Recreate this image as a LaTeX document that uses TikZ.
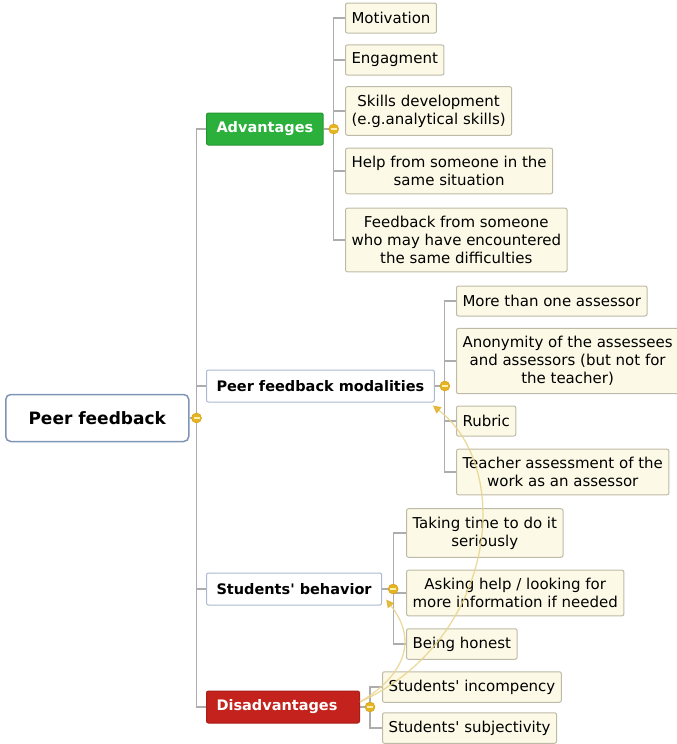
\documentclass[tikz,border=0pt]{standalone}
\usepackage{fontspec}
\setmainfont{DejaVu Sans}
\usepackage{xcolor}
\usetikzlibrary{arrows.meta,backgrounds}

\definecolor{advgreen}{HTML}{2BB03B}
\definecolor{disred}{HTML}{C4221C}
\definecolor{leaffill}{HTML}{FCFAE6}
\definecolor{leafline}{HTML}{BDBBA8}
\definecolor{topicline}{HTML}{AAB9D0}
\definecolor{rootline}{HTML}{7F95B5}
\definecolor{branchgray}{HTML}{ADADAD}
\definecolor{knobgold}{HTML}{E6B422}
\definecolor{knobdark}{HTML}{D09A10}
\definecolor{knoblight}{HTML}{FFF0B0}
\definecolor{relline}{HTML}{E9D38C}
\definecolor{relgold}{HTML}{E0B22A}

\begin{document}
\begin{tikzpicture}[
    x=1pt, y=-1pt,
    every node/.style={font=\fontsize{15}{18}\selectfont},
    leaf/.style={draw=leafline, fill=leaffill, rounded corners=2pt, line width=1pt, anchor=west,
        align=center, inner xsep=6pt, inner ysep=8pt, minimum height=30pt},
    topic/.style={draw=topicline, fill=white, rounded corners=2pt, line width=1pt, anchor=west,
        inner xsep=10pt, minimum height=32pt, font=\fontsize{14.5}{18}\selectfont\bfseries},
    good/.style={topic, draw=advgreen!85!black, fill=advgreen, text=white},
    bad/.style={topic, draw=disred!85!black, fill=disred, text=white},
    root/.style={draw=rootline, fill=white, rounded corners=5pt, line width=1.5pt, anchor=west,
        minimum width=183pt, minimum height=47pt, font=\fontsize{17}{20}\selectfont\bfseries},
    knob/.style={circle, draw=knobdark, fill=knobgold, inner sep=0pt, minimum size=10pt,
        path picture={\draw[knoblight, line width=1.6pt]
            ([xshift=-3pt]path picture bounding box.center) -- ([xshift=3pt]path picture bounding box.center);}},
    branch/.style={draw=branchgray, line width=1.2pt},
    relation/.style={draw=relline, line width=1.3pt, opacity=0.85,
        -{Triangle[length=8pt, width=8pt, color=relgold]}}
]
\useasboundingbox (0,0) rectangle (677,744);

% central topic and main branches
\node[root] (root) at (5,418) {Peer feedback};
\node[good] (adv) at (206,129) {Advantages};
\node[topic] (pfm) at (206,386) {Peer feedback modalities};
\node[topic] (sb) at (206,589) {Students\textquotesingle{} behavior};
\node[bad, text width=133pt, align=left] (dis) at (206,707) {Disadvantages};

% advantages
\node[leaf] (mot) at (345,18) {Motivation};
\node[leaf] (eng) at (345,60) {Engagment};
\node[leaf] (skill) at (345,111) {Skills development\\(e.g.analytical skills)};
\node[leaf] (help) at (345,171) {Help from someone in the\\same situation};
\node[leaf] (fbk) at (345,240) {Feedback from someone\\who may have encountered\\the same difficulties};

% modalities
\node[leaf] (more) at (456,301) {More than one assessor};
\node[leaf] (anon) at (456,361) {Anonymity of the assessees\\and assessors (but not for\\the teacher)};
\node[leaf] (rub) at (456,421) {Rubric};
\node[leaf] (teach) at (456,472) {Teacher assessment of the\\work as an assessor};

% behavior
\node[leaf] (time) at (406,533) {Taking time to do it\\seriously};
\node[leaf] (ask) at (406,593) {Asking help / looking for\\more information if needed};
\node[leaf] (honest) at (406,644) {Being honest};

% disadvantages
\node[leaf] (incomp) at (382,687) {Students\textquotesingle{} incompency};
\node[leaf] (subj) at (382,728) {Students\textquotesingle{} subjectivity};

% collapse knobs
\node[knob] (kroot) at ([xshift=7pt]root.east) {};
\node[knob] (kadv) at ([xshift=10pt]adv.east) {};
\node[knob] (kpfm) at ([xshift=10pt]pfm.east) {};
\node[knob] (ksb) at ([xshift=11pt]sb.east) {};
\node[knob] (kdis) at ([xshift=10pt]dis.east) {};

\begin{scope}[on background layer]
    \draw[branch] (root) -- (kroot.center);
    \foreach \t in {adv,pfm,sb,dis}
        \draw[branch] (kroot.center) |- (\t.west);
    \foreach \p/\c in {adv/mot,adv/eng,adv/skill,adv/help,adv/fbk,
                       pfm/more,pfm/anon,pfm/rub,pfm/teach,
                       sb/time,sb/ask,sb/honest,
                       dis/incomp,dis/subj}{
        \draw[branch] (\p) -- (k\p.center);
        \draw[branch] (k\p.center) |- (\c.west);
    }
\end{scope}

% relationships
\draw[relation] ([yshift=5pt]dis.east) .. controls (495,640) and (515,470) .. ([xshift=-2pt,yshift=-3pt]pfm.south east);
\draw[relation] ([yshift=5pt]dis.east) .. controls (405,675) and (418,640) .. ([xshift=4pt,yshift=6pt]sb.south east);
\end{tikzpicture}
\end{document}
